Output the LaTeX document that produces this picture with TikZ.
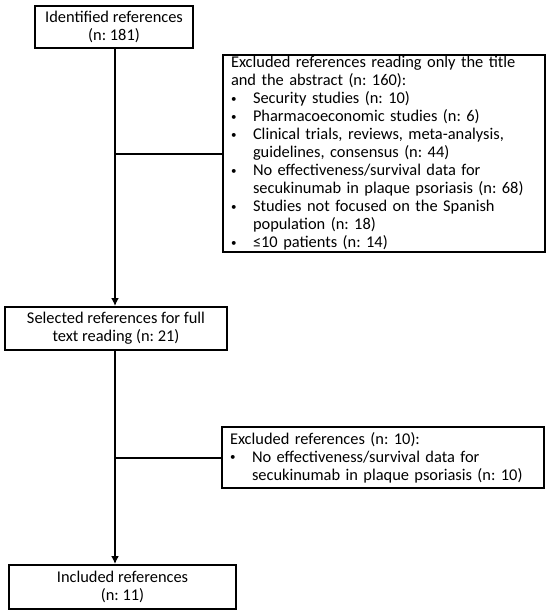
\documentclass[tikz,border=0pt]{standalone}
\usepackage{fontspec}
\setmainfont{Carlito}
\usetikzlibrary{arrows.meta}
\frenchspacing
\newcommand{\bul}{\makebox[22pt][l]{\raisebox{1.5pt}{\fontsize{11}{11}\selectfont\textbullet}}}
\newcommand{\ind}{\hspace*{22pt}}
\begin{document}
\begin{tikzpicture}[x=1pt,y=1pt,
    box/.style={draw, line width=2pt, inner sep=0pt, font=\fontsize{16.4}{18}\selectfont},
    link/.style={line width=2pt},
    arr/.style={line width=2pt, -{Latex[length=8pt,width=8pt]}}]
        \useasboundingbox (0,0) rectangle (550,-615);
        \fill[white] (0,0) rectangle (550,-615);
        \node [box, align=center, minimum width=158, minimum height=42] (ident) at (114,-27) {Identified references\\(n: 181)};
        \node [box, anchor=north west, align=left, text width=306, minimum height=197, inner xsep=8pt] (excl1) at (222,-54) {Excluded references reading only the title\\and the abstract (n: 160):\\
            \bul Security studies (n: 10)\\
            \bul Pharmacoeconomic studies (n: 6)\\
            \bul Clinical trials, reviews, meta-analysis,\\\ind guidelines, consensus (n: 44)\\
            \bul No effectiveness/survival data for\\\ind secukinumab in plaque psoriasis (n: 68)\\
            \bul Studies not focused on the Spanish\\\ind population (n: 18)\\
            \bul ≤10 patients (n: 14)};
        \node [box, align=center, minimum width=222, minimum height=43] (sel) at (116,-328.5) {Selected references for full\\text reading (n: 21)};
        \node [box, anchor=north west, align=left, text width=306, minimum height=61, inner xsep=8pt] (excl2) at (221,-426) {Excluded references (n: 10):\\
            \bul No effectiveness/survival data for\\\ind secukinumab in plaque psoriasis (n: 10)};
        \node [box, align=center, minimum width=227, minimum height=44] (incl) at (122.5,-587) {Included references\\(n: 11)};
        \coordinate (t1) at (115,-48);
        \coordinate (t2) at (115,-350);
        \draw [arr] (t1) -- (t1 |- sel.north);
        \draw [link] (t1 |- excl1.west) -- (excl1.west);
        \draw [arr] (t2) -- (t2 |- incl.north);
        \draw [link] (t2 |- excl2.west) -- (excl2.west);
    \end{tikzpicture}
\end{document}
